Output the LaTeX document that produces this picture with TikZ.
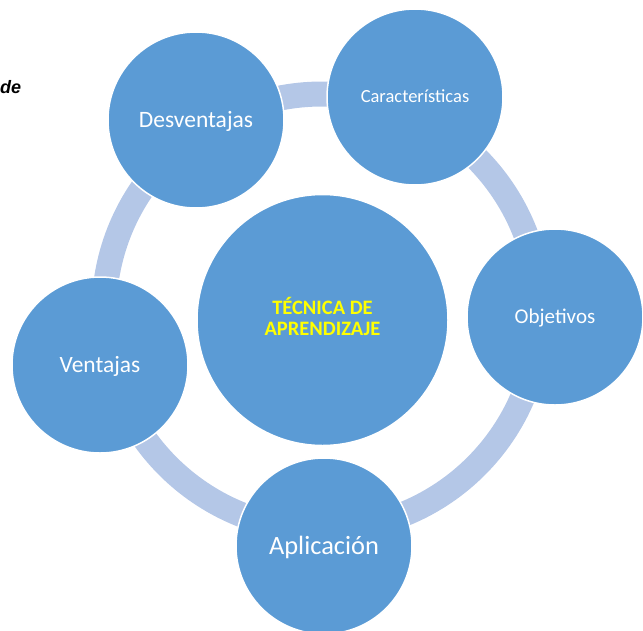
\documentclass[tikz,border=0pt]{standalone}
\usepackage{fontspec}
\setmainfont{Carlito}
\newfontfamily\decofont{Liberation Sans}
\definecolor{sat}{HTML}{5B9BD5}
\definecolor{ringc}{HTML}{B4C7E7}
\definecolor{ytext}{HTML}{FFFF00}
\begin{document}
\begin{tikzpicture}[x=1pt,y=-1pt,
  satellite/.style={circle, fill=sat, draw=white, line width=1.5pt,
    minimum size=176pt, inner sep=0pt, text=white, text depth=0pt},
  hubcircle/.style={circle, fill=sat, draw=white, line width=1.5pt,
    minimum size=251pt, inner sep=0pt},
  ringband/.style={draw=ringc, line width=25pt}]
\useasboundingbox (0,0) rectangle (643,630);
\clip (0,0) rectangle (643,630);
\coordinate (rc) at (322,312);
\draw[ringband] (rc) circle[radius=218];
\node[hubcircle] (hub) at (322.5,320) {};
\node[font=\bfseries\fontsize{20.5}{21}\selectfont, text=ytext, align=center, anchor=base]
  (hubtext) at (322.5,335) {TÉCNICA DE\\APRENDIZAJE};
\node[satellite, font=\fontsize{23.5}{28}\selectfont, text height=15.2pt] (desv) at (196,120) {Desventajas};
\node[satellite, font=\fontsize{18.5}{22}\selectfont, text height=11.9pt] (carac) at (415,97) {Características};
\node[satellite, font=\fontsize{21}{25}\selectfont, text height=13.5pt] (obj) at (555,317) {Objetivos};
\node[satellite, font=\fontsize{26.4}{31}\selectfont, text height=17pt] (apl) at (324,546) {Aplicación};
\node[satellite, font=\fontsize{23.4}{28}\selectfont, text height=15.1pt] (vent) at (100,365) {Ventajas};
\node[font=\decofont\bfseries\itshape\fontsize{18}{21}\selectfont, anchor=base west, inner sep=0pt]
  (frag) at (0,93) {de};
\end{tikzpicture}
\end{document}
